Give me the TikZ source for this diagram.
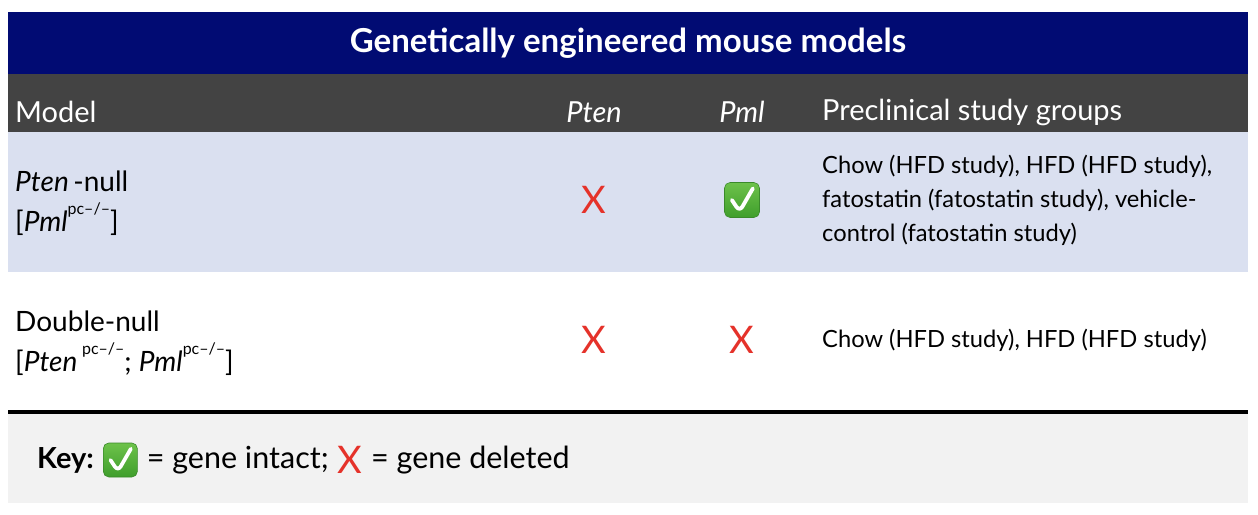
\documentclass[tikz,border=0pt]{standalone}
\usepackage{fontspec}
\setmainfont{Lato}
\usetikzlibrary{positioning,calc}
\definecolor{titleblue}{HTML}{010B73}
\definecolor{headgray}{HTML}{434343}
\definecolor{rowblue}{HTML}{DAE0F0}
\definecolor{keygray}{HTML}{F2F2F2}
\definecolor{xred}{HTML}{E5322A}
\definecolor{chktop}{HTML}{6DC24A}
\definecolor{chkbot}{HTML}{3F9E2C}
\definecolor{chkedge}{HTML}{3A8A2A}
\newcommand{\sfx}[1]{\raisebox{0.6em}{\fontsize{16}{16}\selectfont #1}}
\tikzset{
  titletxt/.style={text=white, font=\fontsize{33}{36}\selectfont\bfseries, inner sep=0pt},
  headtxt/.style={text=white, font=\fontsize{29}{32}\selectfont, inner sep=0pt},
  bodytxt/.style={text=black, font=\fontsize{23.7}{34}\selectfont, inner sep=0pt, align=left},
  modeltxt/.style={text=black, font=\fontsize{28}{40}\selectfont, inner sep=0pt, align=left},
  keytxt/.style={text=black, font=\fontsize{30.5}{32}\selectfont, inner sep=0pt},
  redx/.style={text=xred, font=\fontsize{38}{40}\selectfont, inner sep=0pt},
  chk/.style={rounded corners=0.16*#1, minimum size=#1, inner sep=0pt,
    top color=chktop, bottom color=chkbot, draw=chkedge, line width=0.6pt,
    path picture={\draw[white, line width=0.11*#1, line cap=round, line join=round]
      ($(path picture bounding box.center)+({-0.29*#1},{0.0*#1})$) --
      ($(path picture bounding box.center)+({-0.07*#1},{0.33*#1})$) --
      ($(path picture bounding box.center)+({0.31*#1},{-0.33*#1})$);}}
}
\begin{document}
\begin{tikzpicture}[x=1pt,y=-1pt]
\useasboundingbox (0,0) rectangle (1258,514);
\fill[white] (0,0) rectangle (1258,514);
% bands
\fill[titleblue] (8,12) rectangle (1248,74);
\fill[headgray] (8,74) rectangle (1248,132);
\fill[rowblue] (8,132) rectangle (1248,272);
\fill[keygray] (8,413) rectangle (1248,503);
\fill[black] (8,409.5) rectangle (1248,413.5);
% title
\node[titletxt] (title) at (628,43) {Genetically engineered mouse models};
% header
\node[headtxt, anchor=west] (hmodel) at (15,112) {Model};
\node[headtxt] (hpten) at (594,112) {\itshape Pten};
\node[headtxt] (hpml) at (742,112) {\itshape Pml};
\node[headtxt, anchor=west] (hgroups) at (822,112) {Preclinical study groups};
% row 1
\node[modeltxt, anchor=west] (m1) at (15,203) {\textit{Pten}\,-null\\{}[\textit{Pml}\sfx{pc–/–}]};
\node[redx] (x11) at (594,200) {X};
\node[chk=35] (c12) at (742,200) {};
\node[bodytxt, anchor=west] (g1) at (822,200) {Chow (HFD study), HFD (HFD study),\\fatostatin (fatostatin study), vehicle-\\control (fatostatin study)};
% row 2
\node[modeltxt, anchor=west] (m2) at (15,343) {Double-null\\{}[\textit{Pten}\,\sfx{pc–/–}; \textit{Pml}\sfx{pc–/–}]};
\node[redx] (x21) at (594,340) {X};
\node[redx] (x22) at (742,340) {X};
\node[bodytxt, anchor=west] (g2) at (822,340) {Chow (HFD study), HFD (HFD study)};
% key
\node[keytxt, anchor=west, font=\fontsize{29}{32}\selectfont\bfseries] (k1) at (37,460) {Key:};
\node[chk=34, right=9pt of k1] (k2) {};
\node[keytxt, right=9pt of k2] (k3) {= gene intact;};
\node[redx, right=8pt of k3] (k4) {X};
\node[keytxt, right=9pt of k4] (k5) {= gene deleted};
\end{tikzpicture}
\end{document}
